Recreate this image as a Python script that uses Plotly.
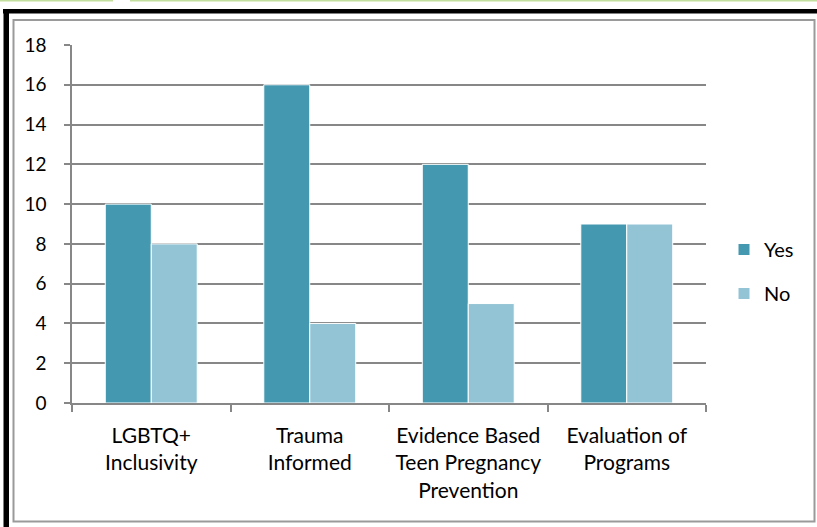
import plotly.graph_objects as go

categories = ["LGBTQ+<br>Inclusivity", "Trauma<br>Informed",
              "Evidence Based<br>Teen Pregnancy<br>Prevention", "Evaluation of<br>Programs"]
yes_values = [10, 16, 12, 9]
no_values = [8, 4, 5, 9]
y_ticks = [0, 2, 4, 6, 8, 10, 12, 14, 16, 18]

W, H = 817, 527
L, R, T, B = 72, 111, 45, 124
PW, PH = W - L - R, H - T - B

def px(x):
    return (x - L) / PW

def py(y):
    return (H - B - y) / PH

FONT = "Lato"
GRID = "#878787"

fig = go.Figure()
fig.add_trace(go.Bar(name="Yes", x=categories, y=yes_values,
                     marker=dict(color="#4498B0", line=dict(color="#ffffff", width=1)),
                     legendgroup="a"))
fig.add_trace(go.Bar(name="No", x=categories, y=no_values,
                     marker=dict(color="#93C4D6", line=dict(color="#ffffff", width=1)),
                     legendgroup="b"))

shapes = [
    dict(type="rect", xref="paper", yref="paper", x0=px(0), x1=px(113), y0=py(0), y1=py(1.5),
         fillcolor="#c3df9f", line=dict(width=0), layer="above"),
    dict(type="rect", xref="paper", yref="paper", x0=px(130), x1=px(817), y0=py(0), y1=py(1.5),
         fillcolor="#c3df9f", line=dict(width=0), layer="above"),
    dict(type="rect", xref="paper", yref="paper", x0=px(3), x1=px(817), y0=py(9), y1=py(13.5),
         fillcolor="#000000", line=dict(width=0), layer="above"),
    dict(type="rect", xref="paper", yref="paper", x0=px(3.5), x1=px(9), y0=py(9), y1=py(527),
         fillcolor="#000000", line=dict(width=0), layer="above"),
    dict(type="rect", xref="paper", yref="paper", x0=px(13.5), x1=px(814.5), y0=py(20), y1=py(521.5),
         line=dict(color="#9a9a9a", width=2), fillcolor="rgba(0,0,0,0)", layer="above"),
]

fig.update_layout(
    width=W, height=H,
    margin=dict(l=L, r=R, t=T, b=B, pad=0),
    paper_bgcolor="white", plot_bgcolor="white",
    barmode="group", bargap=0.42, bargroupgap=0.0,
    font=dict(family=FONT, color="#000000", size=18),
    shapes=shapes,
    showlegend=True,
    legend=dict(x=px(724), xanchor="left", y=py(271.5), yanchor="middle",
                font=dict(size=20, family=FONT), tracegroupgap=15,
                bgcolor="rgba(0,0,0,0)", traceorder="grouped"),
    xaxis=dict(showline=True, linecolor=GRID, linewidth=1.5, ticks="outside",
               tickson="boundaries", ticklen=7, tickcolor=GRID, tickwidth=1.5,
               tickfont=dict(size=21, family=FONT), showgrid=False, fixedrange=True,
               ticklabelstandoff=13),
    yaxis=dict(range=[0, 18], tickvals=y_ticks, showline=True, linecolor=GRID, linewidth=1.5,
               ticks="outside", ticklen=6, tickcolor=GRID, tickwidth=1.5,
               showgrid=True, gridcolor=GRID, gridwidth=1.5, zeroline=False,
               tickfont=dict(size=19, family=FONT), ticklabelstandoff=14),
)

fig.write_html("out.html", config={"displayModeBar": False},
               post_script="document.body.style.margin='0';")
